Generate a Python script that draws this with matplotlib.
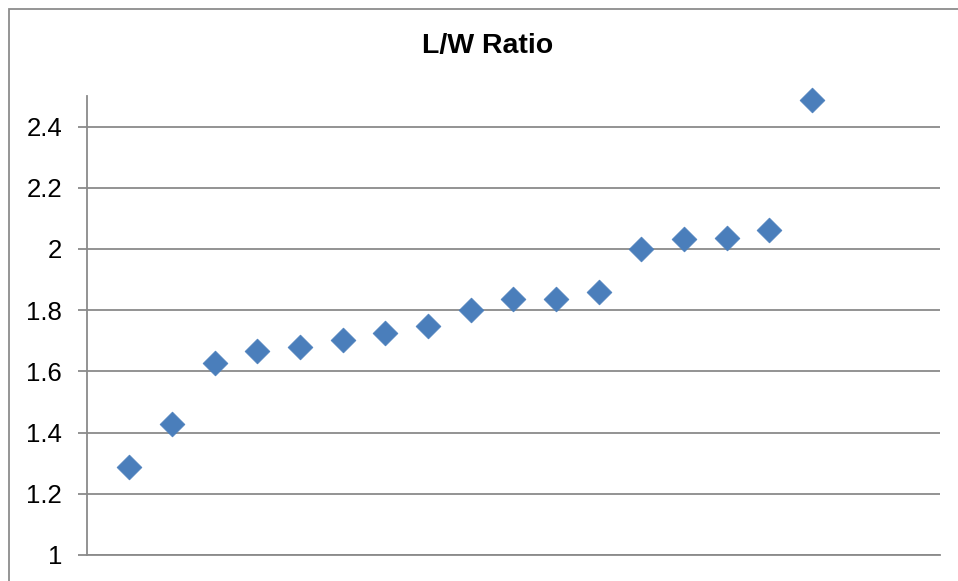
import matplotlib
matplotlib.use("Agg")
import matplotlib.pyplot as plt
from matplotlib.patches import Rectangle

plt.rcParams['font.family'] = ['Liberation Sans', 'DejaVu Sans']

title = "L/W Ratio"
x_vals = list(range(1, 18))
ratios = [1.286, 1.429, 1.629, 1.666, 1.681, 1.703, 1.724, 1.750, 1.800,
          1.835, 1.835, 1.858, 2.000, 2.034, 2.037, 2.061, 2.487]
y_ticks = [1, 1.2, 1.4, 1.6, 1.8, 2, 2.2, 2.4]
y_tick_labels = ["1", "1.2", "1.4", "1.6", "1.8", "2", "2.2", "2.4"]

W, H = 958, 581
fig = plt.figure(figsize=(W / 100, H / 100), dpi=100)
fig.patch.set_facecolor('white')

# outer chart frame (extends past right/bottom edge)
fig.add_artist(Rectangle((8.5 / W, -0.1), 1.2, 1 - 8.5 / H + 0.1,
                         transform=fig.transFigure, fill=False,
                         edgecolor='#8c8c8c', linewidth=1.3))

left, right, top, bottom = 86.5, 940, 96, 555
ax = fig.add_axes([left / W, 1 - bottom / H, (right - left) / W, (bottom - top) / H])

grid_c = '#8a8a8a'
ax.scatter(x_vals, ratios, marker='D', s=160, color='#4a7ebb',
           edgecolors='#4a7ebb', linewidths=0.5, zorder=3, clip_on=False)

ax.set_xlim(0, 20)
ax.set_ylim(1, 2.5)
ax.set_yticks(y_ticks)
ax.set_yticklabels(y_tick_labels, fontsize=18.5)
ax.set_xticks([])
ax.yaxis.grid(True, color=grid_c, linewidth=1.3)
ax.set_axisbelow(True)
for s in ['top', 'right']:
    ax.spines[s].set_visible(False)
for s in ['left', 'bottom']:
    ax.spines[s].set_color(grid_c)
    ax.spines[s].set_linewidth(1.3)
ax.tick_params(axis='y', direction='out', length=6.5, width=1.3, color=grid_c, pad=11)

fig.text(487.5 / W, 1 - 46 / H, title, ha='center', va='center',
         fontsize=20.5, fontweight='bold')

fig.savefig('out.png', dpi=100)
